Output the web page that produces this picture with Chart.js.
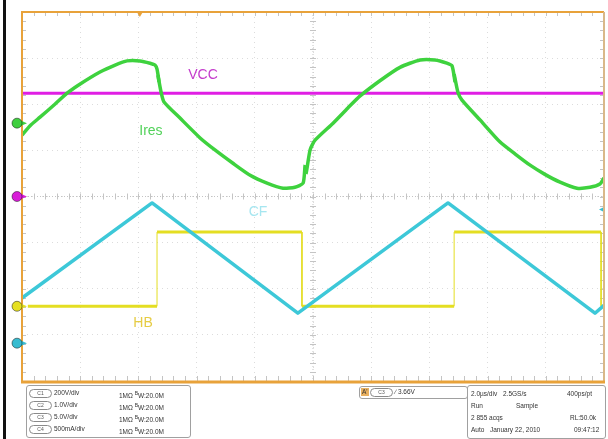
<!DOCTYPE html>
<html>
<head>
<meta charset="utf-8">
<script src="https://cdn.jsdelivr.net/npm/chart.js@4/dist/chart.umd.min.js"></script>
<style>
  body { margin: 0; background: #fff; }
  #wrap { position: relative; width: 608px; height: 439px; overflow: hidden; font-family: "Liberation Sans", Arial, sans-serif; }
  #scope { position: absolute; left: 0; top: 0; }
  .edge { position: absolute; left: 3px; top: 0; width: 3px; height: 439px; background: #111; }
  .box { position: absolute; border: 1px solid #a0a0a0; border-radius: 3px; }
  .t { position: absolute; font-size: 6.5px; line-height: 8px; color: #333; white-space: nowrap; }
  .ch { position: absolute; width: 21px; height: 7px; border: 1px solid #8a8a8a; border-radius: 5px; font-size: 5px; line-height: 7px; text-align: center; color: #555; }
</style>
</head>
<body>
<div id="wrap">
  <canvas id="scope" width="608" height="439"></canvas>
  <div class="edge"></div>

  <!-- channel settings -->
  <div class="box" style="left:26px;top:385px;width:163px;height:51px;">
    <div class="ch" style="left:2px;top:3px;">C1</div><div class="t" style="left:27px;top:3px;">200V/div</div>
    <div class="t" style="left:92px;top:3px;">1MΩ <sup style="font-size:5px">B</sup>W:20.0M</div>
    <div class="ch" style="left:2px;top:15px;">C2</div><div class="t" style="left:27px;top:15px;">1.0V/div</div>
    <div class="t" style="left:92px;top:15px;">1MΩ <sup style="font-size:5px">B</sup>W:20.0M</div>
    <div class="ch" style="left:2px;top:27px;">C3</div><div class="t" style="left:27px;top:27px;">5.0V/div</div>
    <div class="t" style="left:92px;top:27px;">1MΩ <sup style="font-size:5px">B</sup>W:20.0M</div>
    <div class="ch" style="left:2px;top:39px;">C4</div><div class="t" style="left:27px;top:39px;">500mA/div</div>
    <div class="t" style="left:92px;top:39px;">1MΩ <sup style="font-size:5px">B</sup>W:20.0M</div>
  </div>

  <!-- trigger -->
  <div class="box" style="left:359px;top:386px;width:107px;height:11px;">
    <div class="t" style="left:1px;top:1px;background:#e8b060;color:#333;padding:0 1px;">A'</div>
    <div class="ch" style="left:10px;top:1px;">C3</div>
    <div class="t" style="left:35px;top:1px;">∕ 3.66V</div>
  </div>

  <!-- timebase -->
  <div class="box" style="left:467px;top:385px;width:137px;height:52px;">
    <div class="t" style="left:3px;top:4px;">2.0µs/div</div>
    <div class="t" style="left:35px;top:4px;">2.5GS/s</div>
    <div class="t" style="left:99px;top:4px;">400ps/pt</div>
    <div class="t" style="left:3px;top:16px;">Run</div>
    <div class="t" style="left:48px;top:16px;">Sample</div>
    <div class="t" style="left:3px;top:28px;">2 855 acqs</div>
    <div class="t" style="left:102px;top:28px;">RL:50.0k</div>
    <div class="t" style="left:3px;top:40px;">Auto</div>
    <div class="t" style="left:22px;top:40px;">January 22, 2010</div>
    <div class="t" style="left:106px;top:40px;">09:47:12</div>
  </div>
</div>

<script>
// time in µs (2.0 µs/div, 10 div), values in divisions from screen centre
const iresT = [0.00, 0.27, 0.62, 1.13, 1.55, 2.00, 2.68, 3.20, 3.61, 4.05, 4.40, 4.57, 4.64, 4.71, 4.67, 4.78, 4.88,
               5.43, 6.12, 6.63, 7.25, 7.84, 8.42, 8.97, 9.38, 9.66, 9.73, 9.76, 9.90, 10.07,
               10.69, 11.20, 11.62, 12.30, 12.99, 13.68, 14.19, 14.60, 14.78, 14.88, 14.85, 14.98, 15.12,
               15.74, 16.43, 16.95, 17.46, 17.97, 18.49, 19.07, 19.52, 19.86, 20.00];
const iresY = [1.33, 1.53, 1.72, 2.00, 2.24, 2.44, 2.70, 2.85, 2.94, 2.94, 2.89, 2.85, 2.76, 2.48, 2.63, 2.26, 2.05,
               1.70, 1.27, 1.01, 0.72, 0.46, 0.29, 0.18, 0.20, 0.29, 0.68, 0.49, 1.01, 1.22,
               1.59, 1.92, 2.18, 2.51, 2.80, 2.96, 2.96, 2.89, 2.83, 2.48, 2.65, 2.26, 2.09,
               1.66, 1.18, 0.92, 0.68, 0.48, 0.31, 0.18, 0.20, 0.27, 0.40];

const vccT = [0, 20];
const vccY = [2.24, 2.24];

const cfT = [0, 4.47, 9.48, 14.64, 19.69, 20];
const cfY = [-2.20, -0.14, -2.53, -0.14, -2.53, -2.36];

const hbT = [0.2, 4.64, 4.64, 9.62, 9.62, 14.85, 14.85, 19.9, 19.9, 20];
const hbY = [-2.38, -2.38, -0.77, -0.77, -2.38, -2.38, -0.77, -0.77, -2.38, -2.38];

// trace labels [text, t, y, colour]
const traceLabels = [
  ['VCC', 6.22, 2.63, '#c43ccc'],
  ['Ires', 4.43, 1.42, '#52d25a'],
  ['CF', 8.11, -0.34, '#a6e6f0'],
  ['HB', 4.16, -2.75, '#e6cc44'],
];

// channel ground markers on the left edge [y, colour]
const chMarkers = [[1.59, '#3fcf3f'], [0, '#d81ed8'], [-2.38, '#e6e022'], [-3.18, '#38bcd0']];

const pts = (ts, ys) => ts.map((t, i) => ({ x: t, y: ys[i] }));

// steep segments (edges) are drawn thin like on the scope screen
const thinEdges = (w) => ({
  borderWidth: c => {
    const dx = Math.abs(c.p1.x - c.p0.x), dy = Math.abs(c.p1.y - c.p0.y);
    return dx < 1.5 && dy > 6 ? 1 : w;
  }
});

const ORANGE = '#e8a23a';

const scopeDecor = {
  id: 'scopeDecor',
  beforeDatasetsDraw(chart) {
    const { ctx, chartArea: a, scales: { x, y } } = chart;
    const seg = (x1, y1, x2, y2) => { ctx.beginPath(); ctx.moveTo(x1, y1); ctx.lineTo(x2, y2); ctx.stroke(); };
    const cx = x.getPixelForValue(10), cy = y.getPixelForValue(0);
    ctx.save();
    ctx.strokeStyle = '#c4c4c4';
    ctx.lineWidth = 1;
    ctx.setLineDash([1, 2]);
    seg(cx, a.top, cx, a.bottom);
    seg(a.left, cy, a.right, cy);
    ctx.setLineDash([]);
    for (let i = 0; i <= 50; i++) {
      const px = Math.round(x.getPixelForValue(i * 0.4)) + 0.5;
      seg(px, cy - 3, px, cy + 3);
      seg(px, a.top, px, a.top + 4);
      seg(px, a.bottom - 5, px, a.bottom);
    }
    for (let i = 0; i <= 40; i++) {
      const py = Math.round(y.getPixelForValue(-4 + i * 0.2)) + 0.5;
      seg(cx - 3, py, cx + 3, py);
      seg(a.left, py, a.left + 4, py);
      seg(a.right - 4, py, a.right, py);
    }
    ctx.restore();
  },
  afterDatasetsDraw(chart) {
    const { ctx, chartArea: a, scales: { x, y } } = chart;
    ctx.save();
    // frame
    ctx.strokeStyle = ORANGE;
    ctx.lineWidth = 2;
    ctx.beginPath();
    ctx.moveTo(a.left, a.bottom); ctx.lineTo(a.left, a.top); ctx.lineTo(a.right, a.top);
    ctx.stroke();
    ctx.strokeStyle = '#d9b889';
    ctx.beginPath(); ctx.moveTo(a.right, a.top); ctx.lineTo(a.right, a.bottom); ctx.stroke();
    ctx.strokeStyle = ORANGE;
    ctx.lineWidth = 3;
    ctx.beginPath(); ctx.moveTo(a.left - 1, a.bottom + 1); ctx.lineTo(a.right + 1, a.bottom + 1); ctx.stroke();

    // trigger position marker
    const tp = x.getPixelForValue(4.05);
    ctx.fillStyle = ORANGE;
    ctx.beginPath(); ctx.moveTo(tp - 3, a.top); ctx.lineTo(tp + 3, a.top); ctx.lineTo(tp, a.top + 5); ctx.fill();

    // trigger level marker (right edge)
    const tl = y.getPixelForValue(-0.28);
    ctx.fillStyle = '#38bcd0';
    ctx.beginPath(); ctx.moveTo(a.right - 1, tl - 2); ctx.lineTo(a.right - 1, tl + 2); ctx.lineTo(a.right - 5, tl); ctx.fill();

    // channel markers
    chMarkers.forEach(([v, c]) => {
      const py = y.getPixelForValue(v), px = a.left - 5;
      ctx.fillStyle = c;
      ctx.beginPath(); ctx.moveTo(px + 3, py - 3); ctx.lineTo(px + 10, py); ctx.lineTo(px + 3, py + 3); ctx.fill();
      ctx.beginPath(); ctx.arc(px, py, 5, 0, Math.PI * 2); ctx.fill();
      ctx.strokeStyle = 'rgba(0,0,0,0.45)'; ctx.lineWidth = 1; ctx.stroke();
    });

    // trace names
    ctx.font = '14px "Liberation Sans", Arial, sans-serif';
    ctx.textAlign = 'center';
    ctx.textBaseline = 'middle';
    traceLabels.forEach(([txt, t, v, c]) => {
      ctx.fillStyle = c;
      ctx.fillText(txt, x.getPixelForValue(t), y.getPixelForValue(v));
    });
    ctx.restore();
  }
};

const zeroW = s => { s.width = 0; };
const zeroH = s => { s.height = 0; };

new Chart(document.getElementById('scope'), {
  type: 'line',
  data: {
    datasets: [
      { label: 'CF', data: pts(cfT, cfY), borderColor: '#3dc8d8', borderWidth: 3.5 },
      { label: 'HB', data: pts(hbT, hbY), borderColor: '#e4de22', borderWidth: 3, segment: thinEdges(3) },
      { label: 'Ires', data: pts(iresT, iresY), borderColor: '#3ed23e', borderWidth: 3.5, tension: 0.2, segment: thinEdges(3.5) },
      { label: 'VCC', data: pts(vccT, vccY), borderColor: '#e01ee4', borderWidth: 3 },
    ],
  },
  options: {
    responsive: false,
    animation: false,
    layout: { padding: { left: 22, top: 12, right: 4, bottom: 58 } },
    elements: { point: { radius: 0 }, line: { tension: 0, borderCapStyle: 'butt', borderJoinStyle: 'round' } },
    plugins: { legend: { display: false }, tooltip: { enabled: false } },
    scales: {
      x: {
        type: 'linear', min: 0, max: 20,
        ticks: { display: false, stepSize: 2 },
        grid: { color: '#dcdcdc', drawTicks: false },
        border: { display: false, dash: [1, 4] },
        afterFit: zeroH,
      },
      y: {
        type: 'linear', min: -4, max: 4,
        ticks: { display: false, stepSize: 1 },
        grid: { color: '#dcdcdc', drawTicks: false },
        border: { display: false, dash: [1, 4] },
        afterFit: zeroW,
      },
    },
  },
  plugins: [scopeDecor],
});
</script>
</body>
</html>
